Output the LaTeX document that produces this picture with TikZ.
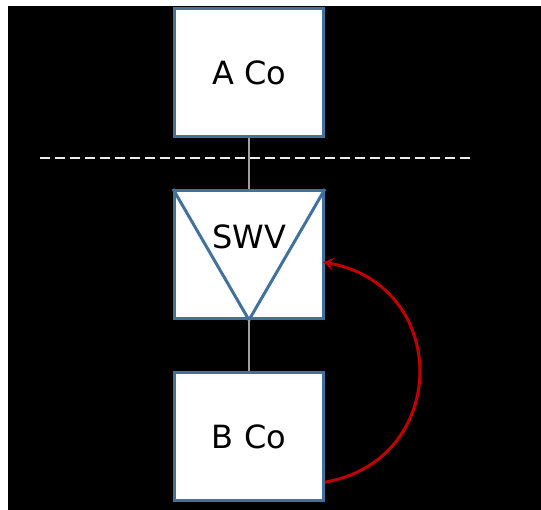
\documentclass[tikz,border=0pt]{standalone}
\usepackage{fontspec}
\setmainfont{DejaVu Sans}
\usetikzlibrary{arrows.meta}
\definecolor{boxblue}{RGB}{65,113,156}
\definecolor{arcred}{RGB}{192,0,0}
\begin{document}
\begin{tikzpicture}[x=1pt, y=-1pt,
    company/.style={draw=boxblue, line width=3pt, fill=white, minimum width=149pt, minimum height=128pt, inner sep=0pt, font=\fontsize{32}{38}\selectfont},
    link/.style={draw=gray!75, line width=1.5pt},
    transfer/.style={draw=arcred, line width=3pt, -{Stealth[length=11pt, width=13pt, inset=5pt]}}
]
    \useasboundingbox (0,0) rectangle (541,510);
    \fill[white] (0,0) rectangle (541,510);
    \fill[black] (8,6) rectangle (541,510);

    \node[company] (aco) at (249,72.5) {A Co};
    \node[company] (swv) at (249,254.5) {};
    \node[company] (bco) at (249,436.5) {B Co};

    % triangle inside the vehicle box
    \draw[boxblue, line width=3pt, line join=round] (swv.north west) -- (swv.south) -- (swv.north east);
    \node[font=\fontsize{32}{38}\selectfont] (swvtext) at (249,236.5) {SWV};

    \draw[link] (aco) -- (swv);
    \draw[link] (swv) -- (bco);

    % border line
    \coordinate (cutL) at (40,158);
    \coordinate (cutR) at (470,158);
    \draw[white!85!gray, line width=2pt, dash pattern=on 10pt off 5pt] (cutL) -- (cutR);

    \draw[transfer, shorten >=-2pt] (bco.-31) .. controls +(126,-22) and +(126,22) .. (swv.-6);
\end{tikzpicture}
\end{document}
